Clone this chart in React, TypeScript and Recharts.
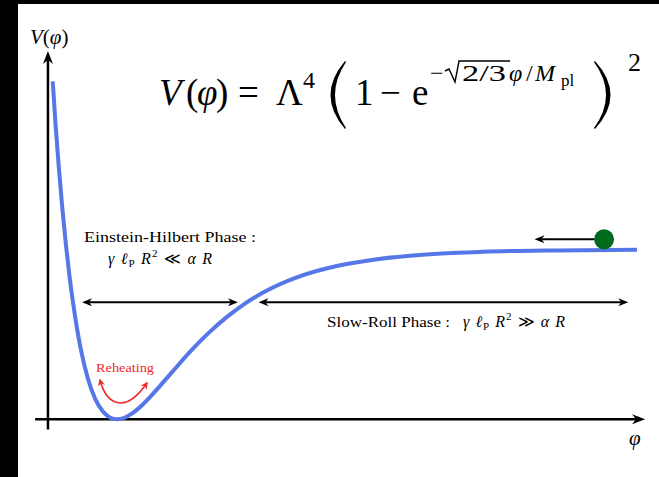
import React from "react";
import { LineChart, Line, XAxis, YAxis, ReferenceLine, ReferenceDot } from "recharts";

// inflaton field (units of M_pl) and potential (units of Λ^4)
const phi = [-0.88, -0.84, -0.8, -0.75, -0.7, -0.65, -0.6, -0.5, -0.4, -0.3, -0.2, -0.1, 0, 0.1, 0.2, 0.35, 0.5, 0.75, 1.0, 1.25, 1.5, 1.75, 2.0, 2.5, 3.0, 3.5, 4.0, 5.0, 6.0, 7.1];
const potential = [1.99, 1.73, 1.5, 1.25, 1.03, 0.84, 0.68, 0.42, 0.24, 0.12, 0.049, 0.011, 0, 0.009, 0.033, 0.087, 0.155, 0.278, 0.4, 0.509, 0.603, 0.683, 0.748, 0.843, 0.903, 0.94, 0.964, 0.987, 0.995, 0.998];

// axes drawn as arrows through the origin region
const yAxisAt = -0.945;
const yAxisSpan = [-0.06, 2.17];
const xAxisSpan = [-1.12, 7.21];

// phase ranges marked with double arrows
const phaseLevel = 0.69;
const einsteinHilbert = [-0.48, 1.65];
const slowRoll = [1.93, 6.98];

// rolling ball on the plateau
const ball = { phi: 6.65, v: 1.06 };
const rollArrow = [6.52, 5.7];

const data = phi.map((p, i) => ({ phi: p, V: potential[i] }));

const BLUE = "#5677e8";
const RED = "#ec2a2a";
const SERIF = "'Liberation Serif', 'DejaVu Serif', serif";

// line with LaTeX-style arrow heads at one or both ends
const arrowShape =
  (startHead: boolean, endHead: boolean, head: number, half: number, width: number) =>
  (p: any) => {
    const { x1, y1, x2, y2 } = p;
    const dx = x2 - x1;
    const dy = y2 - y1;
    const len = Math.hypot(dx, dy) || 1;
    const ux = dx / len;
    const uy = dy / len;
    const tri = (tx: number, ty: number, ax: number, ay: number) => {
      const bx = tx - ax * head;
      const by = ty - ay * head;
      const nx = tx - ax * head * 0.7;
      const ny = ty - ay * head * 0.7;
      return `${tx},${ty} ${bx - ay * half},${by + ax * half} ${nx},${ny} ${bx + ay * half},${by - ax * half}`;
    };
    const sx = startHead ? x1 + ux * head * 0.7 : x1;
    const sy = startHead ? y1 + uy * head * 0.7 : y1;
    const ex = endHead ? x2 - ux * head * 0.7 : x2;
    const ey = endHead ? y2 - uy * head * 0.7 : y2;
    return (
      <g>
        <line x1={sx} y1={sy} x2={ex} y2={ey} stroke="#000" strokeWidth={width} />
        {startHead && <polygon points={tri(x1, y1, -ux, -uy)} fill="#000" />}
        {endHead && <polygon points={tri(x2, y2, ux, uy)} fill="#000" />}
      </g>
    );
  };

function Formula() {
  return (
    <g fontFamily={SERIF} fill="#000">
      <text x={159} y={105} fontSize={37} fontStyle="italic">V</text>
      <text x={186} y={105} fontSize={37}>(</text>
      <text x={197} y={105} fontSize={37} fontStyle="italic">φ</text>
      <text x={216} y={105} fontSize={37}>)</text>
      <text x={238} y={105} fontSize={37}>=</text>
      <text x={276} y={105} fontSize={37}>Λ</text>
      <text x={303} y={88} fontSize={24}>4</text>
      {/* large parentheses */}
      <path d="M345,61 Q316,95 345,129 L346,128 Q324,95 346,62 Z" />
      <path d="M595,61 Q626,95 595,129 L594,128 Q618,95 594,62 Z" />
      <text x={355} y={105} fontSize={37}>1</text>
      <text x={380} y={105} fontSize={37}>−</text>
      <text x={412} y={105} fontSize={37}>e</text>
      <text x={430} y={81} fontSize={24}>−</text>
      {/* radical sign with its bar */}
      <path d="M445,71 L449,69 L455,82 L459,61 L510,61" fill="none" stroke="#000" strokeWidth={1.4} />
      <text x={462} y={81} fontSize={24} textLength={44} lengthAdjust="spacingAndGlyphs">2/3</text>
      <text x={509} y={81} fontSize={24} fontStyle="italic">φ</text>
      <text x={526} y={81} fontSize={24}>/</text>
      <text x={535} y={81} fontSize={24} fontStyle="italic">M</text>
      <text x={561} y={86} fontSize={17}>pl</text>
      <text x={628} y={71} fontSize={26}>2</text>
    </g>
  );
}

function MathRelation({ x, y, rel, width }: { x: number; y: number; rel: string; width: number }) {
  return (
    <text x={x} y={y} fontSize={16} fontFamily={SERIF} textLength={width} lengthAdjust="spacing">
      <tspan fontStyle="italic">γ</tspan>
      <tspan> </tspan>
      <tspan fontStyle="italic">ℓ</tspan>
      <tspan fontSize={11} dy={3}>P</tspan>
      <tspan dy={-3}> </tspan>
      <tspan fontStyle="italic">R</tspan>
      <tspan fontSize={11} dy={-7}>2</tspan>
      <tspan dy={7}>{` ${rel} `}</tspan>
      <tspan fontStyle="italic">α</tspan>
      <tspan> </tspan>
      <tspan fontStyle="italic">R</tspan>
    </text>
  );
}

function Annotations() {
  return (
    <svg width={659} height={477} style={{ position: "absolute", left: 0, top: 0, pointerEvents: "none" }}>
      <defs>
        <marker id="redHead" viewBox="0 0 10 10" refX="8" refY="5" markerWidth="4.5" markerHeight="4.5" orient="auto-start-reverse">
          <path d="M0,0 L10,5 L0,10 L3,5 Z" fill={RED} />
        </marker>
      </defs>
      <Formula />
      <text x={30} y={44} fontSize={21} fontFamily={SERIF}>
        <tspan fontStyle="italic">V</tspan>(<tspan fontStyle="italic">φ</tspan>)
      </text>
      <text x={629} y={445} fontSize={21} fontFamily={SERIF} fontStyle="italic">φ</text>
      <text x={84} y={242} fontSize={15} fontFamily={SERIF} textLength={172} lengthAdjust="spacingAndGlyphs">
        Einstein-Hilbert Phase :
      </text>
      <MathRelation x={108} y={264} rel="≪" width={104} />
      <text x={327} y={327} fontSize={15} fontFamily={SERIF} textLength={123} lengthAdjust="spacingAndGlyphs">
        Slow-Roll Phase :
      </text>
      <MathRelation x={463} y={327} rel="≫" width={102} />
      <text x={96} y={372} fontSize={13} fontFamily={SERIF} fill={RED} textLength={58} lengthAdjust="spacingAndGlyphs">
        Reheating
      </text>
      <path
        d="M100,380 C106,403 124,416 147,383"
        fill="none"
        stroke={RED}
        strokeWidth={1.6}
        markerStart="url(#redHead)"
        markerEnd="url(#redHead)"
      />
    </svg>
  );
}

export default function App() {
  return (
    <div style={{ position: "absolute", left: 0, top: 0, width: 659, height: 477, background: "#000" }}>
      <div style={{ position: "absolute", left: 18, top: 4, right: 0, bottom: 0, background: "#fff" }} />
      <div style={{ position: "absolute", left: 0, top: 0 }}>
        <LineChart width={659} height={477} data={data} margin={{ top: 0, right: 0, bottom: 0, left: 0 }}>
          <XAxis dataKey="phi" type="number" domain={[-1.6, 7.4]} allowDataOverflow hide />
          <YAxis type="number" domain={[-0.34, 2.47]} allowDataOverflow hide />
          <ReferenceLine
            segment={[{ x: yAxisAt, y: yAxisSpan[0] }, { x: yAxisAt, y: yAxisSpan[1] }]}
            shape={arrowShape(false, true, 13, 5, 2.5)}
          />
          <ReferenceLine
            segment={[{ x: xAxisSpan[0], y: 0 }, { x: xAxisSpan[1], y: 0 }]}
            shape={arrowShape(false, true, 13, 5, 2.5)}
          />
          <ReferenceLine
            segment={[{ x: einsteinHilbert[0], y: phaseLevel }, { x: einsteinHilbert[1], y: phaseLevel }]}
            shape={arrowShape(true, true, 10, 4, 2)}
          />
          <ReferenceLine
            segment={[{ x: slowRoll[0], y: phaseLevel }, { x: slowRoll[1], y: phaseLevel }]}
            shape={arrowShape(true, true, 10, 4, 2)}
          />
          <ReferenceLine
            segment={[{ x: rollArrow[0], y: ball.v }, { x: rollArrow[1], y: ball.v }]}
            shape={arrowShape(false, true, 10, 4, 2)}
          />
          <Line
            dataKey="V"
            type="monotone"
            stroke={BLUE}
            strokeWidth={4}
            dot={false}
            activeDot={false}
            isAnimationActive={false}
          />
          <ReferenceDot x={ball.phi} y={ball.v} r={10} fill="#006b1c" stroke="none" />
        </LineChart>
      </div>
      <Annotations />
    </div>
  );
}
